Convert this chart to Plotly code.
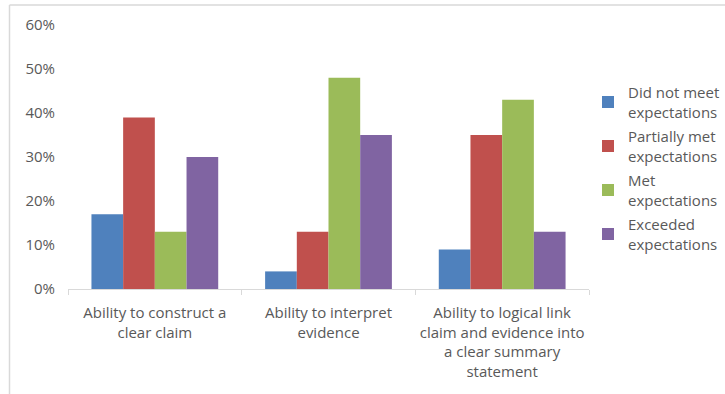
import plotly.graph_objects as go

categories = [
    "Ability to construct a<br>clear claim",
    "Ability to interpret<br>evidence",
    "Ability to logical link<br>claim and evidence into<br>a clear summary<br>statement",
]
series_names = [
    "Did not meet<br>expectations",
    "Partially met<br>expectations",
    "Met<br>expectations",
    "Exceeded<br>expectations",
]
did_not_meet = [0.17, 0.04, 0.09]
partially_met = [0.39, 0.13, 0.35]
met = [0.13, 0.48, 0.43]
exceeded = [0.30, 0.35, 0.13]
colors = ["#4F81BD", "#C0504D", "#9BBB59", "#8064A2"]
y_ticks = [0, 0.1, 0.2, 0.3, 0.4, 0.5, 0.6]

W, H = 725, 394
L, R, T, B = 68, 136, 25, 105
pw, ph = W - L - R, H - T - B

fig = go.Figure()
for i, (name, vals) in enumerate(zip(series_names, [did_not_meet, partially_met, met, exceeded])):
    fig.add_trace(go.Bar(
        x=categories, y=vals, name=name,
        marker=dict(color=colors[i], line=dict(width=0)),
        legendgroup=f"g{i}",
    ))

def px_x(x):
    return (x - L) / pw

def px_y(y):
    return (H - B - y) / ph

fig.update_layout(
    width=W, height=H,
    margin=dict(l=L, r=R, t=T, b=B, autoexpand=False),
    paper_bgcolor="white", plot_bgcolor="white",
    barmode="group", bargap=0.27, bargroupgap=0,
    font=dict(family="Open Sans", size=15, color="#595959"),
    legend=dict(
        xref="container", yref="container",
        x=588 / W, y=1 - 76 / H, xanchor="left", yanchor="top",
        traceorder="grouped", tracegroupgap=2,
        font=dict(size=15, color="#595959"),
        itemwidth=30,
    ),
    xaxis=dict(
        showline=True, linecolor="#D9D9D9", linewidth=1,
        ticks="outside", tickson="boundaries", ticklen=5, tickcolor="#D9D9D9",
        showgrid=False, ticklabelstandoff=10, automargin=False, tickangle=0,
    ),
    yaxis=dict(
        range=[0, 0.6], tickvals=y_ticks, tickformat=".0%",
        showgrid=False, zeroline=False, showline=False,
        ticklabelstandoff=12, automargin=False,
    ),
    shapes=[
        dict(type="line", xref="paper", yref="paper",
             x0=px_x(9.5), x1=px_x(W), y0=px_y(5), y1=px_y(5),
             line=dict(color="#D9D9D9", width=1.5)),
        dict(type="line", xref="paper", yref="paper",
             x0=px_x(9.5), x1=px_x(9.5), y0=px_y(5), y1=px_y(H),
             line=dict(color="#D9D9D9", width=1.5)),
    ],
)

fig.write_html("out.html")
